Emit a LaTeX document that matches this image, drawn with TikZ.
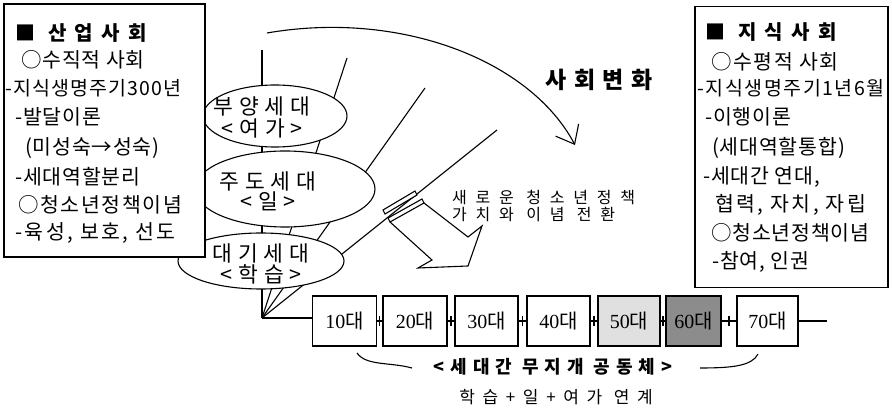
\documentclass[tikz,border=0pt]{standalone}
\usepackage{fontspec}
\setmainfont{Noto Sans CJK KR}
\newfontfamily\numfont{Liberation Serif}
\usetikzlibrary{shapes.geometric,arrows.meta,calc}
\newcommand\lsp[1]{\addfontfeature{LetterSpace=#1}}
\tikzset{
 ln/.style={line width=1.1pt},
 bt/.style={anchor=west, inner sep=0pt, font=\fontsize{20.5}{20.5}\selectfont\lsp{4}},
 hd/.style={anchor=west, inner sep=0pt, font=\fontsize{20}{20}\selectfont\bfseries\lsp{42}},
 et/.style={inner sep=0pt, align=center, font=\fontsize{21.5}{21.5}\selectfont\lsp{28}},
 ell/.style={draw, ellipse, fill=white, inner sep=0pt, line width=1.1pt},
 agebox/.style={draw, line width=1.1pt, minimum height=50pt, inner sep=0pt, font=\fontsize{20}{20}\selectfont},
}
\begin{document}
\begin{tikzpicture}[x=1pt,y=-1pt]
\useasboundingbox[fill=white] (0,0) rectangle (892,411);

% fan lines
\coordinate (fo) at (262,318);
\coordinate (f1) at (262,50);
\coordinate (f2) at (347,58);
\coordinate (f3) at (425,88);
\coordinate (f4) at (497,130);
\draw[ln] (fo) -- (f1);
\draw[ln] (fo) -- (f2);
\draw[ln] (fo) -- (f3);
\draw[ln] (fo) -- (f4);

% ellipses
\node[ell, minimum width=144pt, minimum height=62pt] (e1) at (275,116) {};
\node[ell, minimum width=180pt, minimum height=76pt] (e2) at (285,189) {};
\node[ell, minimum width=166pt, minimum height=56pt] (e3) at (261,261) {};
\node[et, font=\fontsize{21.5}{22}\selectfont\lsp{28}] (t1) at (262,117) {부양세대\\<여가>};
\node[et, font=\fontsize{21.5}{20}\selectfont\lsp{28}] (t2) at (268,191) {주도세대\\<일>};
\node[et, font=\fontsize{21.5}{21}\selectfont\lsp{28}] (t3) at (261,264) {대기세대\\<학습>};

% left box
\node[draw, ln, fill=white, minimum width=201pt, minimum height=253pt, inner sep=0pt] (lb) at (104.5,130.5) {};
\node[hd] (l1) at (15,33) {■ 산업사회};
\node[bt] (l2) at (21,60) {○수직적 사회};
\node[bt, font=\fontsize{19.5}{19.5}\selectfont\lsp{6}] (l3) at (5,88) {-지식생명주기300년};
\node[bt] (l4) at (15,117) {-발달이론};
\node[bt] (l5) at (25,148) {(미성숙→성숙)};
\node[bt] (l6) at (15,177) {-세대역할분리};
\node[bt, font=\fontsize{20.5}{20.5}\selectfont\lsp{8}] (l7) at (18,205) {○청소년정책이념};
\node[bt, font=\fontsize{20.5}{20.5}\selectfont\lsp{12}] (l8) at (15,233) {-육성, 보호, 선도};

% right box
\node[draw, ln, fill=white, minimum width=193pt, minimum height=281pt, inner sep=0pt] (rb) at (791.5,147) {};
\node[hd] (r1) at (705,32) {■ 지식사회};
\node[bt, font=\fontsize{20.5}{20.5}\selectfont\lsp{8}] (r2) at (711,62) {○수평적 사회};
\node[bt, font=\fontsize{19.5}{19.5}\selectfont\lsp{8}] (r3) at (697,88) {-지식생명주기1년6월};
\node[bt] (r4) at (705,117) {-이행이론};
\node[bt] (r5) at (712,148) {(세대역할통합)};
\node[bt] (r6) at (703,177) {-세대간 연대,};
\node[bt, font=\fontsize{20.5}{20.5}\selectfont\lsp{12}] (r7) at (715,205) {협력, 자치, 자립};
\node[bt] (r8) at (711,233) {○청소년정책이념};
\node[bt] (r9) at (712,262) {-참여, 인권};

% big curved arrow
\coordinate (a0) at (267,33);
\coordinate (a1) at (575,145);
\draw[ln, -{Straight Barb[length=16pt,width=26pt]}] (a0) .. controls (400,10) and (530,60) .. (a1);
\node[inner sep=0pt, font=\fontsize{23}{23}\selectfont\bfseries\lsp{32}] (sh) at (599,80) {사회변화};

% hollow arrow and pipe
\draw[ln, fill=white] (383,210) -- (415,191) -- (417,195) -- (385,214) -- cycle;
\draw[ln, fill=white] (388,218) -- (422,199) -- (424,203) -- (390,222) -- cycle;
\draw[ln] (390,222) -- (432,260) -- (418,268) -- (468,266) -- (482,226) -- (468,237) -- (424,203);
\node[anchor=west, inner sep=0pt, font=\fontsize{16}{16}\selectfont\lsp{55}] (n1) at (452,197) {새로운 청소년정책};
\node[anchor=west, inner sep=0pt, font=\fontsize{16}{16}\selectfont\lsp{55}] (n2) at (452,214) {가치와 이념 전환};

% timeline
\node[agebox, minimum width=64pt] (b10) at (344.5,321) {{\numfont 10}대};
\node[agebox, minimum width=64pt] (b20) at (415,321) {{\numfont 20}대};
\node[agebox, minimum width=63pt] (b30) at (486.5,321) {{\numfont 30}대};
\node[agebox, minimum width=63pt] (b40) at (558.5,321) {{\numfont 40}대};
\node[agebox, minimum width=62pt, fill=black!12] (b50) at (629,321) {{\numfont 50}대};
\node[agebox, minimum width=55pt, fill=black!45] (b60) at (693.5,321) {{\numfont 60}대};
\node[agebox, minimum width=61pt] (b70) at (767.5,321) {{\numfont 70}대};
\draw[ln] (fo) -- (fo -| b10.west);
\foreach \a/\b in {b10/b20,b20/b30,b30/b40,b40/b50,b50/b60,b60/b70}{
  \draw[ln] (\a.east) -- (\b.west);
  \draw[ln] ($(\a.east)!0.5!(\b.west)$) +(0,-5) -- +(0,5);
}
\coordinate (tend) at (827,321);
\draw[ln] (b70.east) -- (tend);

% brace curves and labels
\coordinate (c1) at (357,353);
\coordinate (c2) at (412,368);
\coordinate (c3) at (700,368);
\coordinate (c4) at (758,354);
\draw[ln] (c1) .. controls (366,366) and (390,362) .. (c2);
\draw[ln] (c3) .. controls (732,368) and (752,366) .. (c4);
\node[inner sep=0pt, font=\fontsize{18}{18}\selectfont\bfseries\lsp{33}] (bl) at (553,367) {<세대간 무지개 공동체>};
\node[inner sep=0pt, font=\fontsize{17}{17}\selectfont\lsp{45}] (bl2) at (556,397) {학습+일+여가 연계};
\end{tikzpicture}
\end{document}
